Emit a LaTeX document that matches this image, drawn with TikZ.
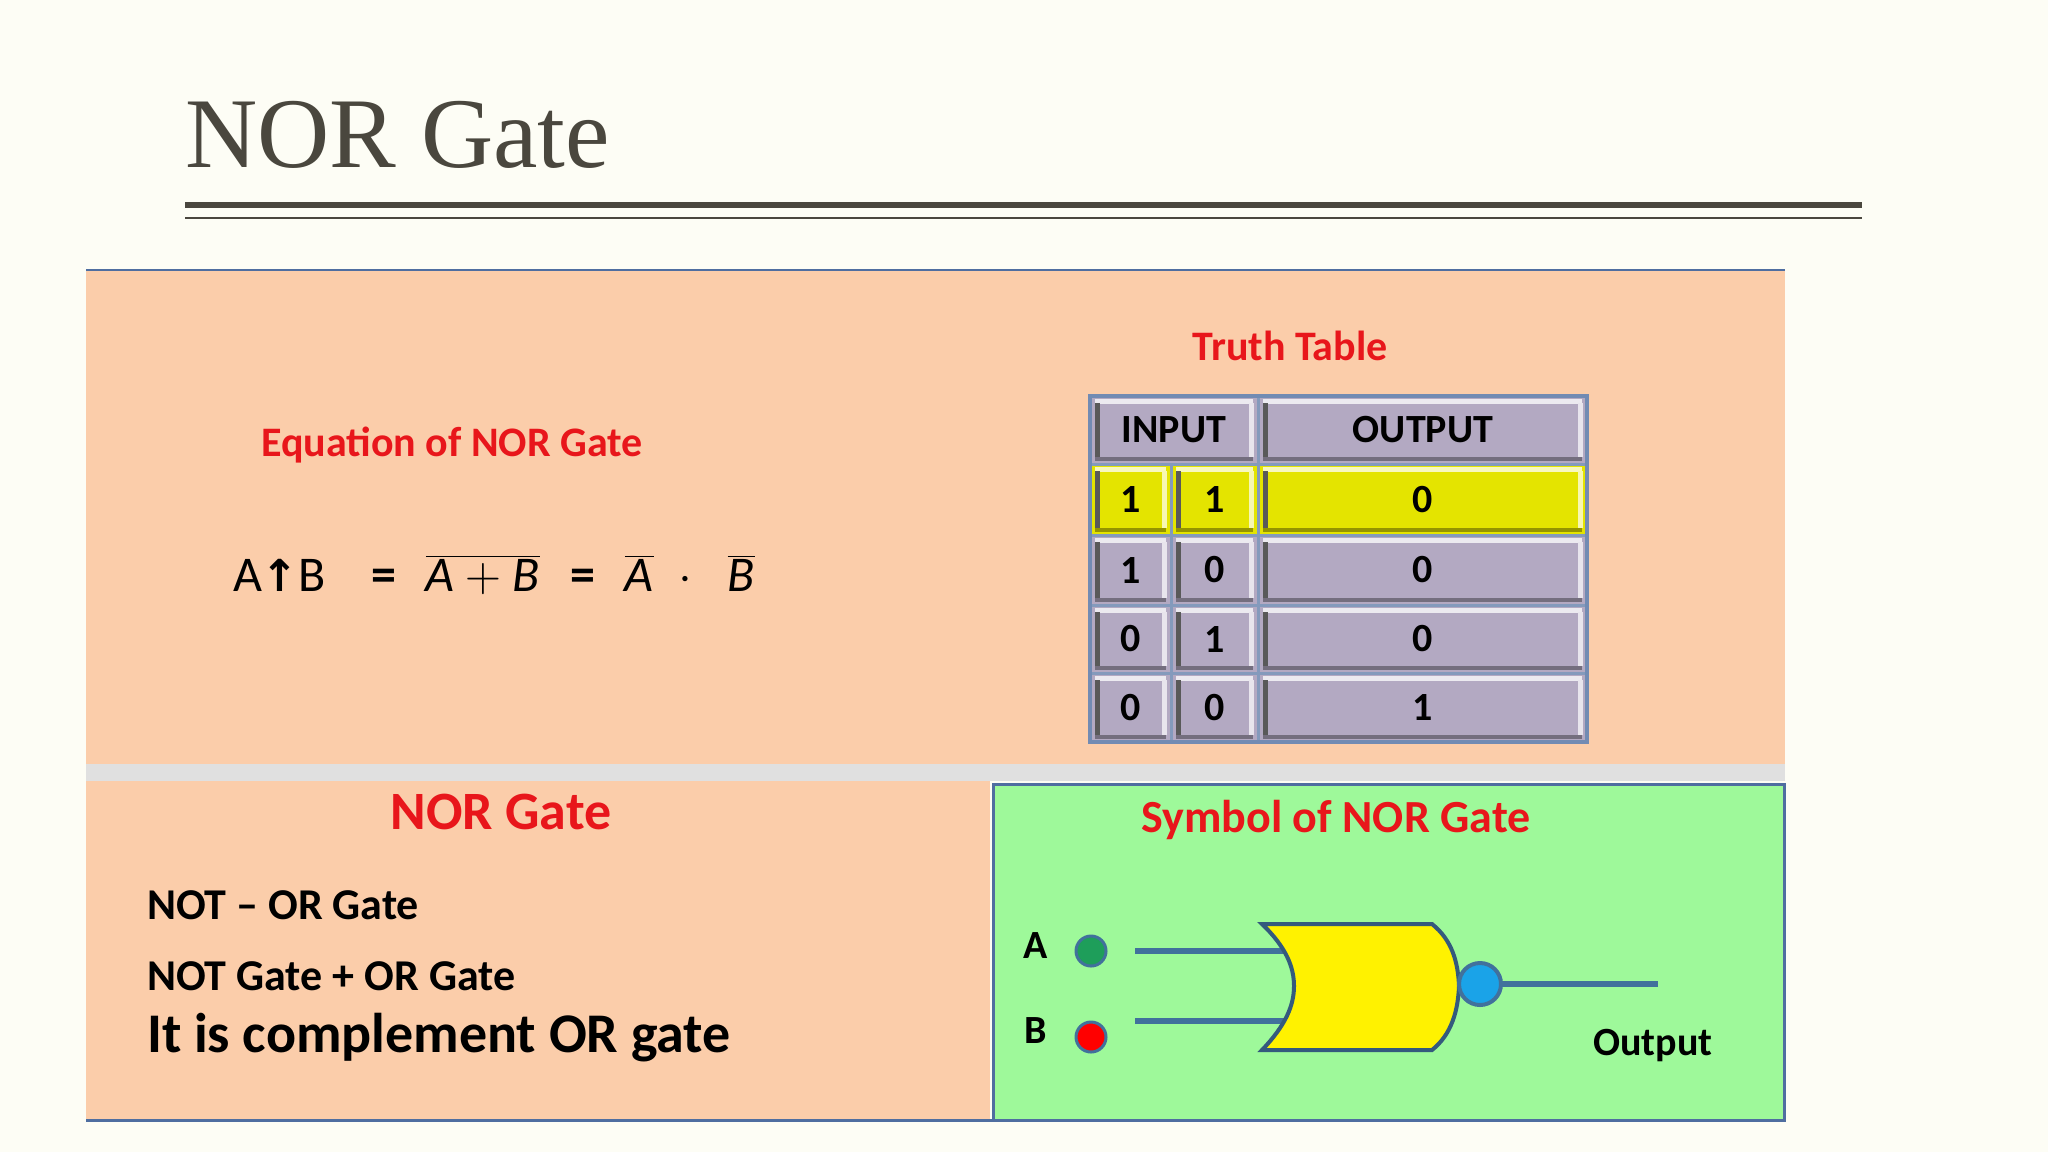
\documentclass[tikz,border=0pt]{standalone}
\usepackage{fontspec}
\setmainfont{Carlito}
\newfontfamily\titlefont{Liberation Serif}
\newfontfamily\dvs{DejaVu Sans}
\definecolor{bgc}{HTML}{FDFDF5}
\definecolor{peach}{HTML}{FBCDAA}
\definecolor{greenp}{HTML}{9EF99A}
\definecolor{borderb}{HTML}{4F6EA0}
\definecolor{redt}{HTML}{E8161B}
\definecolor{lav}{HTML}{B3A9C2}
\definecolor{yel}{HTML}{E4E400}
\definecolor{wire}{HTML}{41719C}
\definecolor{titlec}{HTML}{4A473E}
\definecolor{dotg}{HTML}{1E9E5A}
\definecolor{bubc}{HTML}{1AA3E8}
\newcommand\tcell[5]{%
  \fill[#5] (#1,#2) rectangle (#3,#4);
  \draw[white!75!#5, line width=2.5pt] (#1+5,#2+5)--(#3-5,#2+5);
  \draw[black!65, line width=2.5pt] (#1+7,#2+7)--(#1+7,#4-7);
  \draw[white!70!#5, line width=2.5pt] (#3-7,#2+7)--(#3-7,#4-7);
  \draw[black!35!#5, line width=2pt] (#1+5,#4-5)--(#3-5,#4-5);
  \draw[borderb!70!white, line width=1.5pt] (#1,#2) rectangle (#3,#4);
}
\tikzset{
  redtitle/.style={text=redt, font=\bfseries\fontsize{21}{25}\selectfont},
  celltext/.style={font=\bfseries\fontsize{20}{24}\selectfont},
  body/.style={anchor=west, font=\bfseries\fontsize{22}{26}\selectfont},
  wireline/.style={wire, line width=3pt},
}
\begin{document}
\begin{tikzpicture}[x=0.5pt,y=-0.5pt]
\fill[bgc] (0,0) rectangle (2048,1152);
\useasboundingbox (0,0) rectangle (2048,1152);
% title
\node[anchor=west, text=titlec, font=\titlefont\fontsize{50}{60}\selectfont] (title) at (178,135) {NOR Gate};
\draw[titlec, line width=3.2pt] (185,205) -- (1862,205);
\draw[titlec, line width=1pt] (185,218) -- (1862,218);
% panels
\fill[peach] (86,270) rectangle (1785,764);
\fill[black!12] (86,764) rectangle (1785,781);
\fill[peach] (86,781) rectangle (990,1120);
\fill[greenp] (993,784) rectangle (1784,1120);
\draw[borderb, line width=1pt] (86,270) -- (1785,270);
\draw[borderb, line width=1.5pt] (86,1120) -- (1785,1120);
\draw[borderb, line width=1.5pt] (993,784) rectangle (1784,1120);
% top-left equation
\node[redtitle] (eqt) at (452,445) {Equation of NOR Gate};
\node[anchor=west, font=\fontsize{25}{30}\selectfont] (eq) at (226,575)
  {A{\dvs\bfseries\fontsize{22}{26}\selectfont↑}B\hspace{0.9em}{\bfseries=}\hspace{0.6em}$\overline{\mathit{A}+\mathit{B}}$\hspace{0.6em}{\bfseries=}\hspace{0.6em}$\overline{\mathit{A}}$\hspace{0.5em}{\bfseries$\cdot$}\hspace{0.7em}$\overline{\mathit{B}}$};
% truth table
\node[redtitle] (tt) at (1290,346) {Truth Table};
\tcell{1090}{396}{1258}{464}{lav}
\tcell{1258}{396}{1587}{464}{lav}
\node[celltext] (hin) at (1174,430) {INPUT};
\node[celltext] (hout) at (1423,430) {OUTPUT};
\foreach \ya/\yb/\a/\b/\o/\c in {464/535/1/1/0/yel, 535/605/1/0/0/lav, 605/673/0/1/0/lav, 673/742/0/0/1/lav}{
  \tcell{1090}{\ya}{1171}{\yb}{\c}
  \tcell{1171}{\ya}{1258}{\yb}{\c}
  \tcell{1258}{\ya}{1587}{\yb}{\c}
  \node[celltext] (ca\ya) at (1131,{(\ya+\yb)/2}) {\a};
  \node[celltext] (cb\ya) at (1215,{(\ya+\yb)/2}) {\b};
  \node[celltext] (co\ya) at (1423,{(\ya+\yb)/2}) {\o};
}
\draw[borderb!80!white, line width=2pt] (1090,396) rectangle (1587,742);
% bottom-left
\node[text=redt, font=\bfseries\fontsize{27}{32}\selectfont] (norg) at (501,812) {NOR Gate};
\node[body] (l1) at (140,905) {NOT -- OR Gate};
\node[body] (l2) at (140,976) {NOT Gate + OR Gate};
\node[body, font=\bfseries\fontsize{28}{33}\selectfont] (l3) at (140,1038) {It is complement OR gate};
% symbol
\node[text=redt, font=\bfseries\fontsize{23}{27}\selectfont] (symt) at (1336,820) {Symbol of NOR Gate};
\node[font=\bfseries\fontsize{20}{24}\selectfont] (la) at (1036,946) {A};
\node[font=\bfseries\fontsize{20}{24}\selectfont] (lb) at (1036,1031) {B};
\node[circle, minimum size=15pt, inner sep=0pt, fill=dotg, draw=wire, line width=1.5pt] (da) at (1091,951) {};
\node[circle, minimum size=15pt, inner sep=0pt, fill=red, draw=wire, line width=1.5pt] (db) at (1091,1037) {};
\coordinate (ga) at (1292,951);
\coordinate (gb) at (1292,1021);
\coordinate (ge) at (1658,980);
\draw[wireline] (1135,951) -- (ga);
\draw[wireline] (1135,1021) -- (gb);
\filldraw[fill=yellow, draw=wire!80!black, line width=2pt]
  (1262,924) -- (1432,924) .. controls (1452,940) and (1458,962) .. (1459,986)
  .. controls (1458,1010) and (1452,1034) .. (1432,1050) -- (1262,1050)
  .. controls (1286,1025) and (1294,1005) .. (1294,986)
  .. controls (1294,967) and (1286,947) .. (1262,924) -- cycle;
\node[circle, minimum size=21pt, inner sep=0pt, fill=bubc, draw=wire, line width=2pt] (bub) at (1480,984) {};
\draw[wireline] (bub.east) -- (bub.east -| ge);
\node[font=\bfseries\fontsize{20}{24}\selectfont] (outl) at (1653,1046) {Output};
\end{tikzpicture}
\end{document}
